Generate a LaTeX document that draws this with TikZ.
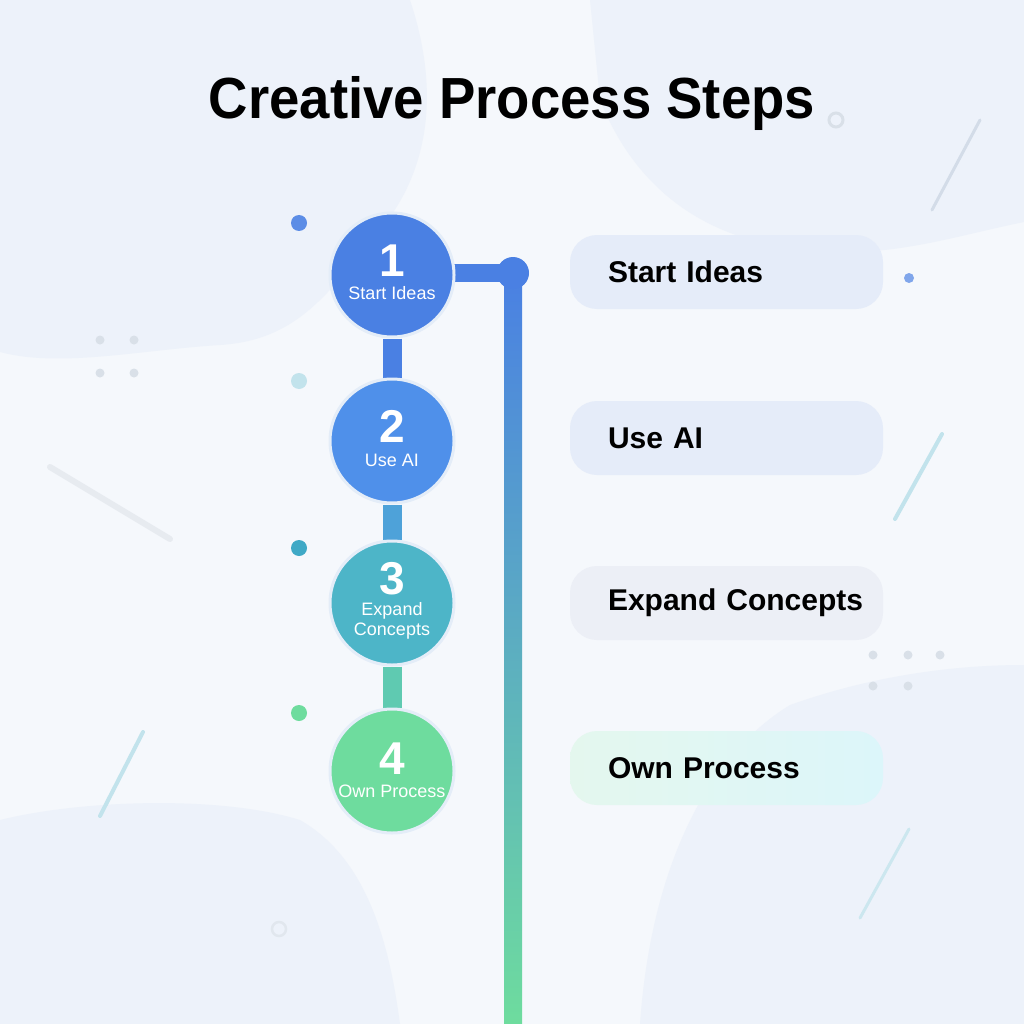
\documentclass[tikz,border=0pt]{standalone}
\usepackage{fontspec}
\setmainfont{Liberation Sans}
\usetikzlibrary{calc}
\pgfdeclarelayer{blobs}
\pgfdeclarelayer{links}
\pgfsetlayers{blobs,links,main}
\definecolor{bgc}{HTML}{F5F8FC}
\definecolor{blobc}{HTML}{EDF2FA}
\definecolor{cA}{HTML}{4A80E3}
\definecolor{cB}{HTML}{4F90EA}
\definecolor{cC}{HTML}{4DB5C8}
\definecolor{cD}{HTML}{6EDC9E}
\definecolor{ringc}{HTML}{E4EDF8}
\definecolor{pillc}{HTML}{E5ECF9}
\definecolor{pillg}{HTML}{ECEFF6}
\definecolor{pillgl}{HTML}{E4F7EE}
\definecolor{pillgr}{HTML}{DCF6FA}
\definecolor{grayd}{HTML}{D9E0E8}
\definecolor{cyanl}{HTML}{C2E3EC}
\definecolor{linegray}{HTML}{E7EBF0}
\definecolor{linegb}{HTML}{D3DCE8}
\definecolor{tealdot}{HTML}{3FA9C6}
\begin{document}
\begin{tikzpicture}[x=1pt,y=-1pt,
  stepcircle/.style={circle,minimum size=124pt,inner sep=0pt,draw=ringc,line width=3pt},
  numtxt/.style={anchor=base,text=white,font=\fontsize{46}{46}\selectfont\bfseries,inner sep=0pt},
  lbltxt/.style={anchor=base,text=white,font=\fontsize{18}{20}\selectfont,inner sep=0pt},
  pill/.style={rounded corners=27pt,minimum height=74pt,text width=275pt,inner xsep=19pt,inner ysep=0pt,align=left,text=black,
    font=\fontsize{30}{34}\selectfont\bfseries,
    execute at begin node=\hspace*{19pt}},
  link/.style={line width=19pt},
  sdot/.style={circle,inner sep=0pt,minimum size=16pt},
  deco/.style={line cap=round}
]
\useasboundingbox (0,0) rectangle (1024,1024);
\begin{pgfonlayer}{blobs}
\fill[bgc] (0,0) rectangle (1024,1024);
\fill[blobc] (0,0) -- (410,0) .. controls (440,90) and (430,170) .. (380,230)
  .. controls (330,290) and (300,340) .. (220,345) .. controls (140,350) and (60,368) .. (0,352) -- cycle;
\fill[blobc] (590,0) -- (1024,0) -- (1024,222) .. controls (960,235) and (900,255) .. (830,252)
  .. controls (720,248) and (640,200) .. (600,100) -- cycle;
\fill[blobc] (1024,665) .. controls (940,665) and (860,680) .. (790,705)
  .. controls (700,760) and (650,880) .. (640,1024) -- (1024,1024) -- cycle;
\fill[blobc] (0,820) .. controls (80,800) and (220,795) .. (300,820)
  .. controls (370,860) and (390,950) .. (400,1024) -- (0,1024) -- cycle;
% decorations
\draw[deco,linegb,line width=3pt] (980,120) -- (932,210);
\draw[deco,cyanl,line width=4pt] (942,434) -- (895,519);
\draw[deco,linegray,line width=6pt] (50,467) -- (170,539);
\draw[deco,cyanl,line width=4pt] (143,732) -- (100,816);
\draw[deco,cyanl!80!bgc,line width=3pt] (909,829) -- (860,918);
\draw[grayd,line width=3pt] (836,120) circle (7);
\draw[grayd!70!bgc,line width=2.5pt] (279,929) circle (7);
\fill[cA!70!white] (909,278) circle (5);
\foreach \p in {(100,340),(134,340),(100,373),(134,373),(873,655),(908,655),(940,655),(873,686),(908,686)}
  \fill[grayd] \p circle (4.5);
\end{pgfonlayer}

% side dots
\node[sdot,fill=cA!90!white] (d1) at (299,223) {};
\node[sdot,fill=cyanl] (d2) at (299,381) {};
\node[sdot,fill=tealdot] (d3) at (299,548) {};
\node[sdot,fill=cD] (d4) at (299,713) {};

% circles
\node[stepcircle,fill=cA] (c1) at (392,275) {};
\node[stepcircle,fill=cB] (c2) at (392,441) {};
\node[stepcircle,fill=cC] (c3) at (392,603) {};
\node[stepcircle,fill=cD] (c4) at (392,771) {};

\node[numtxt] (n1) at ($(c1)+(0,1)$) {1};
\node[lbltxt] (l1) at ($(c1)+(0,24)$) {Start Ideas};
\node[numtxt] (n2) at ($(c2)+(0,1)$) {2};
\node[lbltxt] (l2) at ($(c2)+(0,25)$) {Use AI};
\node[numtxt] (n3) at ($(c3)+(0,-9)$) {3};
\node[lbltxt] (l3a) at ($(c3)+(0,12)$) {Expand};
\node[lbltxt] (l3b) at ($(c3)+(0,32)$) {Concepts};
\node[numtxt] (n4) at ($(c4)+(0,3)$) {4};
\node[lbltxt] (l4) at ($(c4)+(0,26)$) {Own Process};

% hub and main line
\node[circle,fill=cA,minimum size=32pt,inner sep=0pt] (hub) at (513,273) {};
\coordinate (lineend) at (513,1024);
\begin{pgfonlayer}{links}
\draw[link,cA] (c1.south) -- (c2.north);
\draw[link,cB!50!cC] (c2.south) -- (c3.north);
\draw[link,cC!45!cD] (c3.south) -- (c4.north);
\draw[line width=18pt,cA] (hub -| c1.center) -- (hub.center);
\shade[top color=cA,middle color=cC!85!cB,bottom color=cD] ($(hub.center)+(-9,0)$) rectangle ($(lineend)+(9,0)$);
\end{pgfonlayer}

% pills
\node[pill,fill=pillc] (p1) at (726.5,272) {Start Ideas};
\node[pill,fill=pillc] (p2) at (726.5,438) {Use AI};
\node[pill,fill=pillg] (p3) at (726.5,603) {Expand Concepts};
\node[pill,left color=pillgl,right color=pillgr] (p4) at (726.5,768) {Own Process};

% title
\node[font=\fontsize{58}{60}\selectfont\bfseries,inner sep=0pt] (title) at (512,104) {\scalebox{0.94}[1]{Creative Process Steps}};
\end{tikzpicture}
\end{document}
